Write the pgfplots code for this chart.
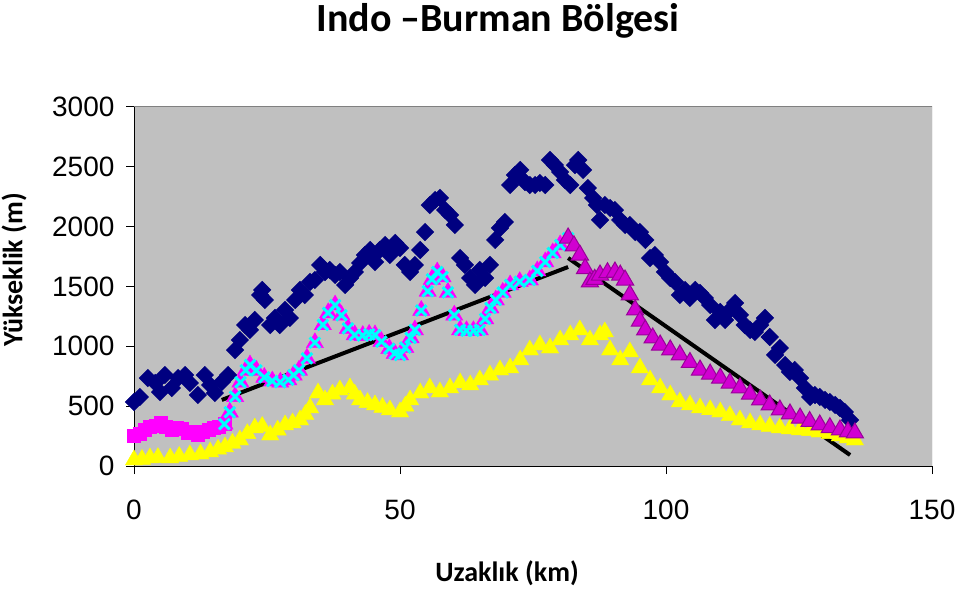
\documentclass[border=0pt]{standalone}
\usepackage{fontspec}
\setmainfont{Liberation Sans}
\newfontfamily\calibri{Carlito}
\usepackage{pgfplots}
\pgfplotsset{compat=1.18}

\definecolor{plotgray}{RGB}{192,192,192}
\definecolor{framegray}{RGB}{128,128,128}
\definecolor{navyx}{RGB}{0,0,128}
\definecolor{magx}{RGB}{255,0,255}
\definecolor{cyanx}{RGB}{0,255,255}
\definecolor{yelx}{RGB}{255,255,0}
\definecolor{purx}{RGB}{153,0,153}

\begin{document}
\begin{tikzpicture}[x=1pt,y=1pt]
\path[use as bounding box] (0,0) rectangle (960,589);

\begin{axis}[
    at={(134pt,123pt)}, anchor=south west,
    width=798pt, height=359pt, scale only axis,
    xmin=0, xmax=150, ymin=0, ymax=3000,
    xtick={0,50,100,150},
    ytick={0,500,1000,1500,2000,2500,3000},
    axis lines=left,
    axis line style={-, black, line width=1pt},
    axis background/.style={fill=plotgray},
    tick align=outside,
    major tick length=8pt,
    tick style={black, line width=1pt},
    ticklabel style={font=\fontsize{28}{30}\selectfont},
    /pgf/number format/.cd, 1000 sep={}, assume math mode=true, /pgfplots/.cd,
    xticklabel style={yshift=-22pt},
    yticklabel style={xshift=-8pt},
]

% max elevation
\addplot[only marks, mark=square*, mark size=6.2pt,
  mark options={rotate=45, draw=navyx, fill=navyx}] coordinates {
(0,535) (1.1,577) (2.6,735) (4.0,694) (4.9,618) (5.8,760) (7.1,652) (8.3,735)
(9.6,760) (10.5,694) (12.0,593) (13.3,760) (14.3,677) (15.2,610) (16.5,702)
(17.7,760) (19.0,969) (19.9,1053) (20.9,1178) (21.8,1137) (22.7,1220) (23.7,1429)
(24.1,1471) (24.6,1387) (25.6,1178) (26.5,1237) (27.4,1178) (28.4,1304) (29.3,1237)
(30.3,1387) (31.2,1471) (32.1,1429) (33.1,1538) (34.0,1554) (35.0,1680) (35.9,1621)
(36.8,1638) (37.8,1596) (38.7,1621) (39.7,1513) (40.6,1571) (41.5,1621) (42.5,1696)
(43.4,1763) (44.4,1805) (45.3,1705) (46.2,1805) (47.2,1847) (48.1,1763) (49.1,1864)
(50.0,1822) (50.9,1680) (51.9,1621) (52.8,1680) (53.8,1805) (54.7,1955) (55.6,2181)
(56.6,2223) (57.5,2240) (58.5,2139) (59.4,2098) (60.3,2014) (61.3,1738) (62.2,1680)
(63.2,1571) (64.1,1513) (65.0,1638) (66.0,1571) (66.9,1680) (67.9,1889) (68.8,1989)
(69.7,2039) (70.7,2348) (71.6,2432) (72.6,2474) (73.5,2373) (74.4,2348) (75.4,2348)
(76.3,2365) (77.3,2348) (78.2,2557) (79.1,2515) (80.1,2457) (81.0,2390) (82.0,2348)
(82.9,2515) (83.5,2557) (84.4,2474) (85.3,2323) (86.3,2240) (87.0,2181) (87.6,2056)
(88.5,2181) (89.5,2156) (90.4,2139) (91.4,2056) (92.3,2014) (93.2,2014) (94.2,1955)
(95.1,1955) (96.1,1889) (97.0,1738) (97.9,1763) (98.9,1705) (99.8,1621) (100.8,1571)
(101.7,1538) (102.6,1429) (103.6,1471) (104.5,1404) (105.5,1471) (106.4,1446)
(107.3,1404) (108.3,1345) (109.2,1220) (110.2,1287) (111.1,1220) (112.0,1304)
(113.0,1362) (113.9,1262) (114.8,1178) (115.8,1137) (116.7,1120) (117.7,1178)
(118.6,1237) (119.5,1078) (120.5,928) (121.4,986) (122.4,844) (123.3,786) (124.2,802)
(125.2,735) (126.1,652) (127.1,577) (128.0,593) (128.9,577) (129.9,552) (130.8,535)
(131.8,510) (132.7,485) (133.6,451) (134.6,384)
};

% min elevation
\addplot[only marks, mark=triangle*, mark size=10pt,
  mark options={draw=yelx, fill=yelx}] coordinates {
(0,50) (1.5,55) (3,67) (4.5,70) (6.8,67) (8.5,80) (10.5,92) (12.5,100) (14.3,117)
(15.8,140) (17.1,159) (18.5,190) (19.9,217) (21.3,270) (22.7,318) (24.1,330)
(25.6,259) (27.0,300) (28.4,343) (29.8,360) (31.2,384) (32.2,430) (33.1,485)
(34.6,610) (35.9,552) (37.3,600) (38.7,635) (40.6,652) (41.5,600) (42.5,552)
(43.9,530) (45.3,510) (46.7,490) (48.1,468) (50,451) (51.0,500) (51.9,552)
(53.8,610) (55.6,652) (57.5,618) (59.4,652) (61.3,694) (63.2,677) (65,719)
(66.9,760) (68.8,802) (70.7,819) (72.6,886) (74.4,969) (76.3,1011) (78.2,986)
(80.1,1053) (82,1095) (83.8,1137) (85.7,1053) (87.6,1095) (88.5,1120) (89.5,969)
(91.4,886) (93.2,953) (95.1,819) (97,719) (98.9,652) (100.8,593) (102.6,535)
(104.5,510) (106.4,485) (108.3,470) (110.2,451) (112,420) (113.9,384) (115.8,360)
(117.7,343) (119.5,330) (121.4,318) (123.3,310) (125.2,301) (127.1,295) (128.9,284)
(130.8,270) (132.7,251) (134.2,235) (135.5,217)
};

% mean elevation, western part
\addplot[only marks, mark=square*, mark size=6.5pt,
  mark options={draw=magx, fill=magx}] coordinates {
(0,250) (1,270) (2,300) (3,330) (4,340) (5,360) (6,330) (7,300) (8,320) (9,310)
(10,280) (11,290) (12,260) (13,290) (14,300) (15,320) (16,330) (17,350)
};

% mean elevation, central part
\addplot[only marks, mark=triangle*, mark size=10pt,
  mark options={draw=magx, fill=magx}] coordinates {
(17,350) (18,450) (19,580) (20,700) (21,800) (21.8,844) (23,800) (24.5,740)
(26,710) (27.5,700) (29,720) (30,760) (31,800) (32.5,900) (34,1030) (35.5,1180)
(36.5,1280) (37.8,1345) (39,1260) (40.2,1150) (41.5,1095) (43,1090) (44.2,1100)
(45.3,1095) (46.5,1040) (48,980) (49,940) (50,928) (51,990) (52,1070) (52.8,1137)
(54,1300) (55.2,1460) (56,1560) (57,1621) (58,1580) (59,1450) (60.2,1260)
(61.3,1137) (62.5,1130) (63.8,1130) (65,1137) (66,1230) (67,1320) (68,1387)
(69.3,1450) (70.7,1513) (72.5,1540) (74.4,1554) (75.8,1630) (77.3,1705) (78.7,1780)
(80.1,1847) (81.6,1905)
};
\addplot[only marks, mark=x, mark size=7.5pt,
  mark options={draw=cyanx, line width=3pt}] coordinates {
(17,350) (18,450) (19,580) (20,700) (21,800) (21.8,844) (23,800) (24.5,740)
(26,710) (27.5,700) (29,720) (30,760) (31,800) (32.5,900) (34,1030) (35.5,1180)
(36.5,1280) (37.8,1345) (39,1260) (40.2,1150) (41.5,1095) (43,1090) (44.2,1100)
(45.3,1095) (46.5,1040) (48,980) (49,940) (50,928) (51,990) (52,1070) (52.8,1137)
(54,1300) (55.2,1460) (56,1560) (57,1621) (58,1580) (59,1450) (60.2,1260)
(61.3,1137) (62.5,1130) (63.8,1130) (65,1137) (66,1230) (67,1320) (68,1387)
(69.3,1450) (70.7,1513) (72.5,1540) (74.4,1554) (75.8,1630) (77.3,1705) (78.7,1780)
(80.1,1847) (81.6,1905)
};

% mean elevation, eastern part
\addplot[only marks, mark=triangle*, mark size=10pt,
  mark options={draw=purx, fill=magx!55!purx, line width=1pt}] coordinates {
(81.6,1905) (82.7,1840) (83.8,1763) (84.8,1650) (85.7,1538) (86.6,1560) (87.6,1596)
(89,1615) (90.4,1621) (91.4,1595) (92.3,1554) (93.2,1430) (94.2,1304) (95.1,1210)
(96.1,1137) (97.5,1070) (98.9,1011) (100.8,970) (102.6,928) (104.5,865) (106.4,802)
(108.3,768) (110.2,735) (112,693) (113.9,652) (115.8,600) (117.7,552) (119.5,510)
(121.4,468) (123.3,435) (125.2,401) (127,372) (128.9,343) (130.8,320) (132.7,301)
(134.2,285) (135.5,276)
};

% trend lines
\addplot[black, line width=4pt, no marks] coordinates {(16.5,552) (81.6,1663)};
\addplot[black, line width=4pt, no marks] coordinates {(81.6,1738) (134.6,92)};

\draw[framegray, line width=1pt] (rel axis cs:0,1) -- (rel axis cs:1,1) -- (rel axis cs:1,0);
\end{axis}

\node[font=\calibri\bfseries\fontsize{40}{42}\selectfont] at (498,568) {Indo –Burman Bölgesi};
\node[font=\calibri\bfseries\fontsize{28}{30}\selectfont] at (507,16) {Uzaklık (km)};
\node[font=\calibri\bfseries\fontsize{28}{30}\selectfont, rotate=90] at (14,319) {Yükseklik (m)};
\end{tikzpicture}
\end{document}
